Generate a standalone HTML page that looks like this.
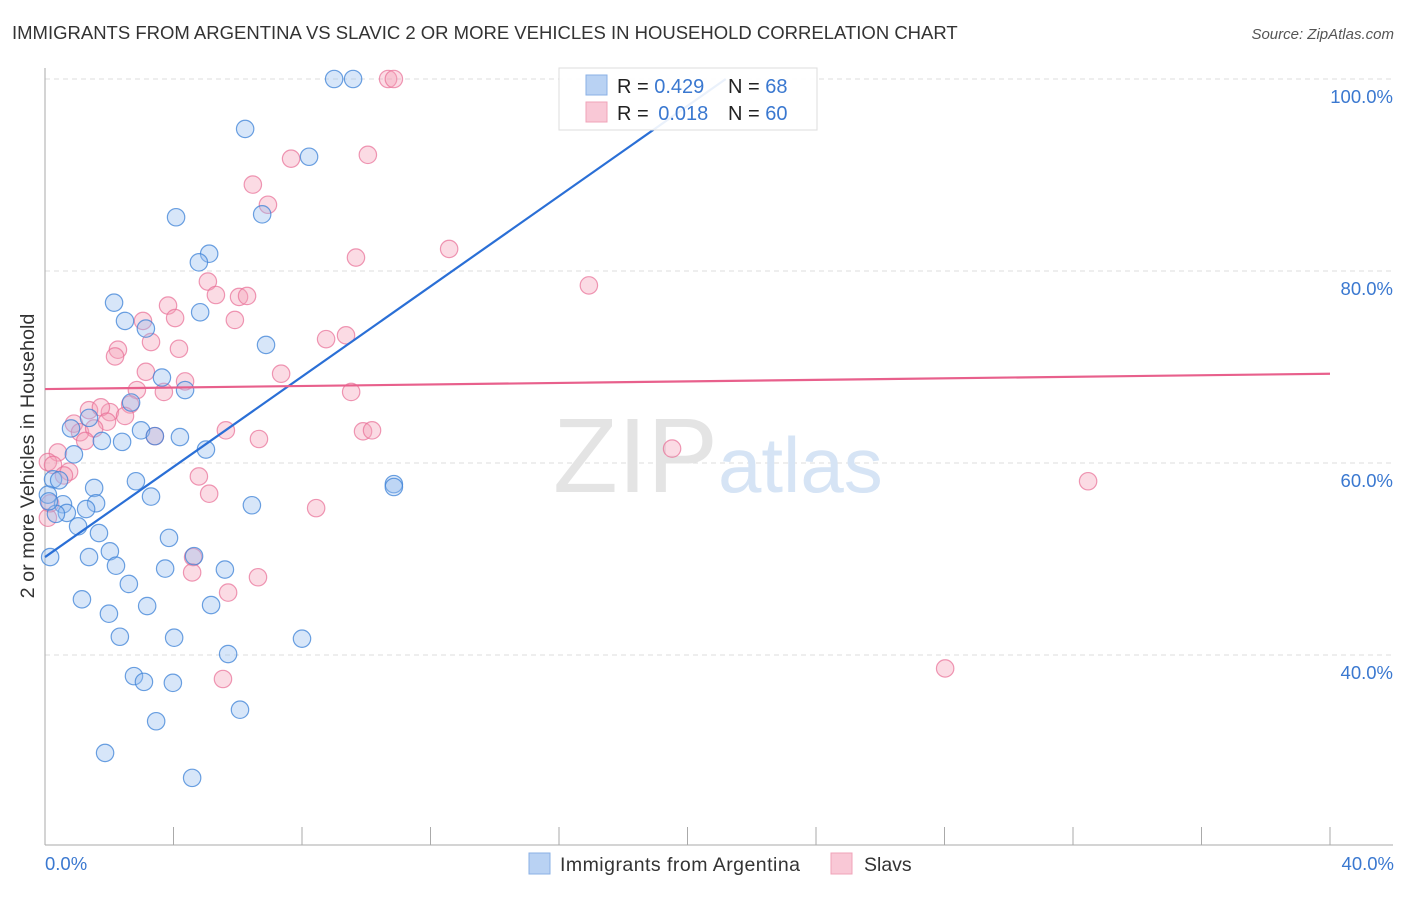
<!DOCTYPE html>
<html><head><meta charset="utf-8"><style>
body{margin:0;background:#fff;font-family:"Liberation Sans",sans-serif;}
svg text{font-family:"Liberation Sans",sans-serif;}
</style></head><body>
<svg id="chart" width="1406" height="892" xmlns="http://www.w3.org/2000/svg">
<text x="12" y="39" font-size="18.5" fill="#333">IMMIGRANTS FROM ARGENTINA VS SLAVIC 2 OR MORE VEHICLES IN HOUSEHOLD CORRELATION CHART</text>
<text x="1394" y="39" font-size="15" fill="#555" font-style="italic" text-anchor="end">Source: ZipAtlas.com</text>
<g id="grid"></g>
<text x="553" y="492" font-size="106" fill="#e4e4e4" font-family="Liberation Serif">ZIP</text>
<text x="718" y="492" font-size="78" fill="#d6e4f5">atlas</text>
<g id="marks"></g>
<text transform="translate(34,456) rotate(-90)" font-size="19.8" fill="#333" text-anchor="middle">2 or more Vehicles in Household</text>
<text x="45" y="870" font-size="18.5" fill="#3a78d0">0.0%</text>
<text x="1394" y="870" font-size="18.5" fill="#3a78d0" text-anchor="end">40.0%</text>
<g>
<rect x="559" y="68" width="258" height="62" fill="rgba(255,255,255,0.9)" stroke="#ddd"/>
<rect x="586" y="75" width="21" height="20" fill="#b9d2f3" stroke="#8ab0e6"/>
<rect x="586" y="102" width="21" height="20" fill="#f9c8d6" stroke="#f0a3b8"/>
<text x="617" y="93" font-size="20" fill="#222">R = <tspan fill="#3a78d0">0.429</tspan></text>
<text x="728" y="93" font-size="20" fill="#222">N = <tspan fill="#3a78d0">68</tspan></text>
<text x="617" y="120" font-size="20" fill="#222">R = <tspan fill="#3a78d0" dx="4">0.018</tspan></text>
<text x="728" y="120" font-size="20" fill="#222">N = <tspan fill="#3a78d0">60</tspan></text>
</g>
<g>
<rect x="529" y="853" width="21" height="21" fill="#b9d2f3" stroke="#8ab0e6"/>
<text x="560" y="871" font-size="19.5" fill="#333" textLength="240">Immigrants from Argentina</text>
<rect x="831" y="853" width="21" height="21" fill="#f9c8d6" stroke="#f0a3b8"/>
<text x="864" y="871" font-size="19.5" fill="#333">Slavs</text>
</g>
</svg>
<script>
const yTicks=[40,60,80,100];
const yTickLabels=["40.0%","60.0%","80.0%","100.0%"];
const xTickVals=[0,4,8,12,16,20,24,28,32,36,40];
const blueX=[9.0,9.59,6.23,8.22,4.08,6.76,5.11,4.79,2.15,2.49,4.83,3.14,6.88,3.64,4.36,2.68,1.37,0.81,2.99,3.42,4.2,1.77,2.4,5.01,0.9,0.25,0.44,1.53,2.83,3.3,0.09,0.56,1.59,1.28,0.68,0.34,1.03,1.68,6.44,10.86,10.86,2.02,3.86,4.64,0.16,1.37,2.21,3.74,5.6,2.61,1.15,3.18,5.17,1.99,2.33,4.02,8.0,5.7,2.77,3.08,3.98,6.07,3.46,1.87,4.58,0.12];
const blueY=[100,100,94.8,91.9,85.6,85.9,81.8,80.9,76.7,74.8,75.7,74.0,72.3,68.9,67.6,66.3,64.7,63.6,63.4,62.8,62.7,62.3,62.2,61.4,60.9,58.3,58.2,57.4,58.1,56.5,56.7,55.7,55.8,55.2,54.8,54.7,53.4,52.7,55.6,57.8,57.5,50.8,52.2,50.3,50.2,50.2,49.3,49.0,48.9,47.4,45.8,45.1,45.2,44.3,41.9,41.8,41.7,40.1,37.8,37.2,37.1,34.3,33.1,29.8,27.2,56.0];
const pinkX=[10.68,10.86,10.05,7.66,6.47,6.94,12.58,9.68,16.93,5.07,5.32,6.04,6.29,3.83,3.05,4.05,5.91,8.75,9.37,3.3,4.17,2.27,2.18,3.14,4.36,7.35,9.53,2.86,3.7,2.65,1.37,2.02,1.74,2.49,0.9,1.93,1.09,1.53,3.42,5.63,6.66,1.25,9.9,10.18,19.52,0.4,0.09,0.25,0.75,0.59,4.79,5.11,8.44,32.47,4.61,4.58,5.7,6.63,5.54,28.02,0.09,0.16];
const pinkY=[100,100,92.1,91.7,89.0,86.9,82.3,81.4,78.5,78.9,77.5,77.3,77.4,76.4,74.8,75.1,74.9,72.9,73.3,72.6,71.9,71.8,71.1,69.5,68.5,69.3,67.4,67.6,67.4,66.1,65.5,65.3,65.8,64.9,64.1,64.3,63.2,63.6,62.8,63.4,62.5,62.3,63.3,63.4,61.5,61.1,60.1,59.8,59.1,58.7,58.6,56.8,55.3,58.1,50.2,48.6,46.5,48.1,37.5,38.6,54.3,55.8];
const blueLine=[50.2,2.35];
const pinkLine=[67.7,0.04];
const NS="http://www.w3.org/2000/svg";
const sx=v=>45+v/40*1285;
const sy=v=>79+(100-v)*9.6;
function mk(tag,attrs,parent){const e=document.createElementNS(NS,tag);for(const k in attrs)e.setAttribute(k,attrs[k]);parent.appendChild(e);return e;}
const grid=document.getElementById('grid');
const marks=document.getElementById('marks');
yTicks.forEach((t,i)=>{
 const l=mk('line',{x1:45,x2:1393,y1:sy(t),y2:sy(t),stroke:'#ddd','stroke-dasharray':'5,4'},grid);
 
 
 const tx=mk('text',{x:1393,y:sy(t)+24,'font-size':18.5,fill:'#3a78d0','text-anchor':'end'},grid);
 tx.textContent=yTickLabels[i];
 
 
});
const ax=mk('line',{x1:45,x2:45,y1:68,y2:845,stroke:'#aaa'},grid);


const bx=mk('line',{x1:45,x2:1393,y1:845,y2:845,stroke:'#aaa'},grid);


xTickVals.forEach(v=>{
 const t=mk('line',{x1:sx(v),x2:sx(v),y1:827,y2:845,stroke:'#aaa'},grid);
 
 
});
function dots(X,Y,fill,stroke,name){
 X.forEach((x,i)=>{
  const c=mk('circle',{cx:sx(x),cy:sy(Y[i]),r:8.7,fill:fill,stroke:stroke,'stroke-width':1.2},marks);
  
  
 });
}
dots(pinkX,pinkY,'rgba(245,160,185,0.38)','rgba(232,110,150,0.7)','slavic-point');
dots(blueX,blueY,'rgba(150,190,240,0.38)','rgba(60,130,215,0.75)','argentina-point');
const bEnd=(100-blueLine[0])/blueLine[1];
const bl=mk('line',{x1:sx(0),y1:sy(blueLine[0]),x2:sx(bEnd),y2:sy(100),stroke:'#2a6fd6','stroke-width':2.2},marks);


const pl=mk('line',{x1:sx(0),y1:sy(pinkLine[0]),x2:sx(40),y2:sy(pinkLine[0]+pinkLine[1]*40),stroke:'#e8608c','stroke-width':2.2},marks);


</script>
</body></html>
